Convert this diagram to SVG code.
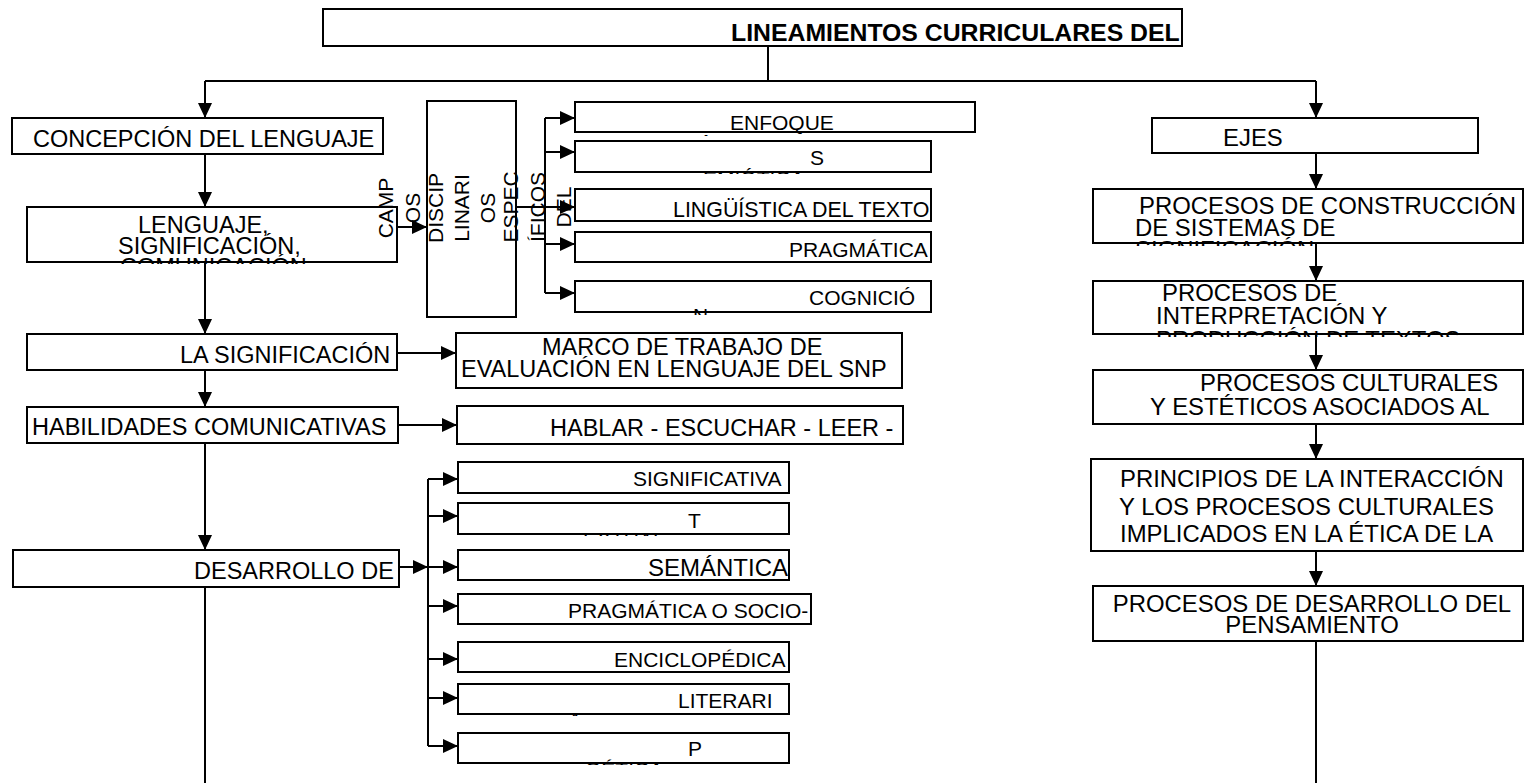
<svg xmlns="http://www.w3.org/2000/svg" width="1528" height="783" viewBox="0 0 1528 783">
<style>
.box{fill:#fff;stroke:#000;stroke-width:2}
.conn{fill:none;stroke:#000;stroke-width:2}
.t{font-family:"Liberation Sans",Arial,sans-serif;font-size:23.5px;fill:#000}
.s{font-size:21px}
.r{font-size:23.9px}
.b{font-weight:bold;font-size:24.8px}
</style>
<defs>
<marker id="ah" markerUnits="userSpaceOnUse" markerWidth="15" markerHeight="14" refX="15" refY="7" orient="auto">
<path d="M0,0 L15,7 L0,14 z" fill="#000"/>
</marker>
<clipPath id="cLen" clipPathUnits="userSpaceOnUse"><rect x="27" y="207" width="371" height="57"/></clipPath>
<clipPath id="cEnf" clipPathUnits="userSpaceOnUse"><rect x="575" y="102" width="401" height="34"/></clipPath>
<clipPath id="cSem" clipPathUnits="userSpaceOnUse"><rect x="575" y="141" width="357" height="33"/></clipPath>
<clipPath id="cCog" clipPathUnits="userSpaceOnUse"><rect x="575" y="281" width="357" height="34"/></clipPath>
<clipPath id="cTex" clipPathUnits="userSpaceOnUse"><rect x="458" y="503" width="332" height="33"/></clipPath>
<clipPath id="cLit" clipPathUnits="userSpaceOnUse"><rect x="458" y="684" width="332" height="32"/></clipPath>
<clipPath id="cPoe" clipPathUnits="userSpaceOnUse"><rect x="458" y="733" width="332" height="32"/></clipPath>
<clipPath id="cCon" clipPathUnits="userSpaceOnUse"><rect x="1093" y="189" width="431" height="57"/></clipPath>
<clipPath id="cInt" clipPathUnits="userSpaceOnUse"><rect x="1093" y="281" width="431" height="56"/></clipPath>
</defs>

<g id="connectors" class="conn">
<path d="M768,46 V81"/>
<path d="M205,81 H1316"/>
<path d="M205,81 V118" marker-end="url(#ah)"/>
<path d="M1316,81 V118" marker-end="url(#ah)"/>
<path d="M205,154 V207" marker-end="url(#ah)"/>
<path d="M205,262 V334" marker-end="url(#ah)"/>
<path d="M205,370 V407" marker-end="url(#ah)"/>
<path d="M205,443 V550" marker-end="url(#ah)"/>
<path d="M205,587 V783"/>
<path d="M397,353 H456" marker-end="url(#ah)"/>
<path d="M398,425 H457" marker-end="url(#ah)"/>
<path d="M397,227 H427" marker-end="url(#ah)"/>
<path d="M516,207 H575" marker-end="url(#ah)"/>
<path d="M545,118 V293"/>
<path d="M545,118 H575" marker-end="url(#ah)"/>
<path d="M545,152 H575" marker-end="url(#ah)"/>
<path d="M545,244 H575" marker-end="url(#ah)"/>
<path d="M545,293 H575" marker-end="url(#ah)"/>
<path d="M399,567 H428" marker-end="url(#ah)"/>
<path d="M428,479 V746"/>
<path d="M428,479 H458" marker-end="url(#ah)"/>
<path d="M428,516 H458" marker-end="url(#ah)"/>
<path d="M428,567 H458" marker-end="url(#ah)"/>
<path d="M428,606 H458" marker-end="url(#ah)"/>
<path d="M428,659 H458" marker-end="url(#ah)"/>
<path d="M428,698 H458" marker-end="url(#ah)"/>
<path d="M428,746 H458" marker-end="url(#ah)"/>
<path d="M1316,153 V189" marker-end="url(#ah)"/>
<path d="M1316,243 V281" marker-end="url(#ah)"/>
<path d="M1316,334 V370" marker-end="url(#ah)"/>
<path d="M1316,424 V459" marker-end="url(#ah)"/>
<path d="M1316,551 V586" marker-end="url(#ah)"/>
<path d="M1316,641 V783"/>
</g>

<g id="title">
<rect class="box" x="323" y="9" width="859" height="37"/>
<text class="t b" x="731" y="41">LINEAMIENTOS CURRICULARES DEL</text>
</g>

<g id="concepcion">
<rect class="box" x="12" y="118" width="371" height="36"/>
<text class="t" x="33" y="147">CONCEPCIÓN DEL LENGUAJE</text>
</g>

<g id="lenguaje">
<rect class="box" x="27" y="207" width="370" height="55"/>
<g clip-path="url(#cLen)">
<text class="t" x="138" y="233">LENGUAJE,</text>
<text class="t" x="118" y="254">SIGNIFICACIÓN,</text>
<text class="t" x="120" y="275">COMUNICACIÓN</text>
</g>
</g>

<g id="campos">
<text class="t s" transform="translate(393,208) rotate(-90)" text-anchor="middle">CAMP<tspan x="0" dy="27">OS</tspan></text>
</g>

<g id="disciplinarios">
<rect class="box" x="427" y="101" width="89" height="216"/>
<text class="t s" transform="translate(443,208) rotate(-90)" text-anchor="middle">DISCIP<tspan x="0" dy="26">LINARI</tspan><tspan x="0" dy="26">OS</tspan></text>
<text class="t s" transform="translate(518,207) rotate(-90)" text-anchor="middle">ESPEC<tspan x="0" dy="27">ÍFICOS</tspan><tspan x="0" dy="26">DEL</tspan></text>
</g>

<g id="enfoque">
<rect class="box" x="575" y="102" width="400" height="30"/>
<g clip-path="url(#cEnf)">
<text class="t s" x="730" y="130">ENFOQUE</text>
<text class="t s" x="699" y="149">A</text>
</g>
</g>

<g id="semiotica">
<rect class="box" x="575" y="141" width="356" height="31"/>
<g clip-path="url(#cSem)">
<text class="t s" x="810" y="165">S</text>
<text class="t s" x="703" y="186">EMIÓTICA</text>
</g>
</g>

<g id="linguistica">
<rect class="box" x="575" y="189" width="356" height="32"/>
<text class="t" style="font-size:21.4px" x="673" y="217">LINGÜÍSTICA DEL TEXTO</text>
</g>

<g id="pragmatica">
<rect class="box" x="575" y="232" width="356" height="30"/>
<text class="t s" x="789" y="257">PRAGMÁTICA</text>
</g>

<g id="cognicion">
<rect class="box" x="575" y="281" width="356" height="31"/>
<g clip-path="url(#cCog)">
<text class="t s" x="809" y="305">COGNICIÓ</text>
<text class="t s" x="693" y="323">N</text>
</g>
</g>

<g id="la-significacion">
<rect class="box" x="27" y="334" width="370" height="36"/>
<text class="t" x="180" y="363">LA SIGNIFICACIÓN</text>
</g>

<g id="marco">
<rect class="box" x="456" y="333" width="446" height="55"/>
<text class="t" x="542" y="355">MARCO DE TRABAJO DE</text>
<text class="t" x="461" y="377">EVALUACIÓN EN LENGUAJE DEL SNP</text>
</g>

<g id="habilidades">
<rect class="box" x="27" y="407" width="371" height="36"/>
<text class="t" x="32" y="435">HABILIDADES COMUNICATIVAS</text>
</g>

<g id="hablar">
<rect class="box" x="457" y="406" width="446" height="38"/>
<text class="t" x="550" y="436">HABLAR - ESCUCHAR - LEER -</text>
</g>

<g id="desarrollo">
<rect class="box" x="13" y="550" width="386" height="37"/>
<text class="t" x="194" y="579">DESARROLLO DE</text>
</g>

<g id="significativa">
<rect class="box" x="458" y="462" width="331" height="31"/>
<text class="t s" x="633" y="486">SIGNIFICATIVA</text>
</g>

<g id="textual">
<rect class="box" x="458" y="503" width="331" height="31"/>
<g clip-path="url(#cTex)">
<text class="t s" x="688" y="528">T</text>
<text class="t s" x="583" y="547">EXTUAL</text>
</g>
</g>

<g id="semantica">
<rect class="box" x="458" y="550" width="331" height="30"/>
<text class="t" style="font-size:24px" x="648" y="576">SEMÁNTICA</text>
</g>

<g id="pragmatica-socio">
<rect class="box" x="458" y="594" width="353" height="30"/>
<text class="t s" x="568" y="618">PRAGMÁTICA O SOCIO-</text>
</g>

<g id="enciclopedica">
<rect class="box" x="458" y="642" width="331" height="30"/>
<text class="t s" x="614" y="667">ENCICLOPÉDICA</text>
</g>

<g id="literaria">
<rect class="box" x="458" y="684" width="331" height="30"/>
<g clip-path="url(#cLit)">
<text class="t s" x="678" y="708">LITERARI</text>
<text class="t s" x="568" y="727">A</text>
</g>
</g>

<g id="poetica">
<rect class="box" x="458" y="733" width="331" height="30"/>
<g clip-path="url(#cPoe)">
<text class="t s" x="688" y="756">P</text>
<text class="t s" x="585" y="777">OÉTICA</text>
</g>
</g>

<g id="ejes">
<rect class="box" x="1152" y="118" width="326" height="35"/>
<text class="t r" x="1223" y="146">EJES</text>
</g>

<g id="construccion">
<rect class="box" x="1093" y="189" width="430" height="54"/>
<g clip-path="url(#cCon)">
<text class="t r" x="1139" y="214">PROCESOS DE CONSTRUCCIÓN</text>
<text class="t r" x="1135" y="236">DE SISTEMAS DE</text>
<text class="t r" x="1135" y="258">SIGNIFICACIÓN</text>
</g>
</g>

<g id="interpretacion">
<rect class="box" x="1093" y="281" width="430" height="53"/>
<g clip-path="url(#cInt)">
<text class="t r" x="1162" y="301">PROCESOS DE</text>
<text class="t r" x="1156" y="324">INTERPRETACIÓN Y</text>
<text class="t r" x="1156" y="348">PRODUCCIÓN DE TEXTOS</text>
</g>
</g>

<g id="culturales">
<rect class="box" x="1093" y="370" width="430" height="54"/>
<text class="t r" x="1200" y="391">PROCESOS CULTURALES</text>
<text class="t r" x="1150" y="415">Y ESTÉTICOS ASOCIADOS AL</text>
</g>

<g id="principios">
<rect class="box" x="1091" y="459" width="432" height="92"/>
<text class="t r" x="1120" y="487">PRINCIPIOS DE LA INTERACCIÓN</text>
<text class="t r" x="1119" y="515">Y LOS PROCESOS CULTURALES</text>
<text class="t r" x="1120" y="542">IMPLICADOS EN LA ÉTICA DE LA</text>
</g>

<g id="pensamiento">
<rect class="box" x="1093" y="586" width="430" height="55"/>
<text class="t r" x="1312" y="612" text-anchor="middle">PROCESOS DE DESARROLLO DEL</text>
<text class="t r" x="1312" y="633" text-anchor="middle">PENSAMIENTO</text>
</g>
</svg>
